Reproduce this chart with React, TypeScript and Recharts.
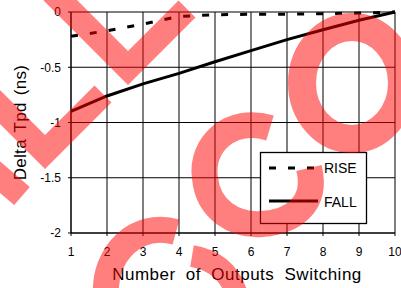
import { CartesianGrid, Line, LineChart, XAxis, YAxis } from "recharts";

const outputs = [1, 2, 3, 4, 5, 6, 7, 8, 9, 10];
const rise = [-0.22, -0.17, -0.11, -0.04, -0.025, -0.02, -0.02, -0.015, -0.01, 0];
const fall = [-0.9, -0.76, -0.65, -0.555, -0.45, -0.35, -0.25, -0.16, -0.075, 0];
const xTicks = [1, 2, 3, 4, 5, 6, 7, 8, 9, 10];
const yTicks = [-2, -1.5, -1, -0.5, 0];
const seriesNames = ["RISE", "FALL"];

const data = outputs.map((n, i) => ({ n, rise: rise[i], fall: fall[i] }));

const font = "'Liberation Sans', Arial, Helvetica, sans-serif";
const DASH = "7 12";
const STAMP = "rgba(255,0,0,0.5)";

// legend box plus the red stamp that sits over the whole picture
function Overlay() {
  return (
    <svg
      width={401}
      height={288}
      viewBox="0 0 401 288"
      style={{ position: "absolute", left: 0, top: 0, pointerEvents: "none", zIndex: 20 }}
    >
      <rect x={260.5} y={152.5} width={106} height={71} fill="#fff" stroke="#000" strokeWidth={1.3} />
      <line x1={269} y1={168} x2={314} y2={168} stroke="#000" strokeWidth={3} strokeDasharray={DASH} />
      <text x={324} y={173} fontSize={14} fontFamily={font} fill="#000">{seriesNames[0]}</text>
      <line x1={269} y1={201} x2={318} y2={201} stroke="#000" strokeWidth={3} />
      <text x={324} y={207} fontSize={14} fontFamily={font} fill="#000">{seriesNames[1]}</text>

      <polyline points="52,-8 128,68 187,9" fill="none" stroke={STAMP} strokeWidth={24} />
      <polyline points="-20,87 45,152 103,94" fill="none" stroke={STAMP} strokeWidth={24} />
      <line x1={-20} y1={160} x2={22} y2={196} stroke={STAMP} strokeWidth={24} />
      <path d="M106,296 C103,254 136,221 176,232" fill="none" stroke={STAMP} strokeWidth={26} />
      <path d="M270,128 C230,116 200,145 205,178 C208,210 235,226 262,224" fill="none" stroke={STAMP} strokeWidth={26} />
      <path d="M262,224 C292,222 318,205 309,168" fill="none" stroke={STAMP} strokeWidth={26} />
      <ellipse cx={352} cy={83} rx={50} ry={56} fill="none" stroke={STAMP} strokeWidth={28} />
      <path d="M192,256 Q228,262 238,298" fill="none" stroke={STAMP} strokeWidth={22} />
    </svg>
  );
}

export default function App() {
  return (
    <div style={{ position: "absolute", left: 0, top: 0, width: 401, height: 288, background: "#fff" }}>
      <LineChart
        width={401}
        height={288}
        data={data}
        margin={{ top: 12, right: 6, bottom: 0, left: 0 }}
      >
        <CartesianGrid stroke="#000" strokeWidth={1} />
        <XAxis
          dataKey="n"
          type="number"
          domain={[1, 10]}
          ticks={xTicks}
          interval={0}
          height={55}
          stroke="#000"
          tickSize={3}
          tickMargin={11}
          tick={{ fill: "#000", fontSize: 12, fontFamily: font }}
          label={{
            content: (p: any) => {
              const vb = p.viewBox || { x: 71, y: 233, width: 324, height: 55 };
              return (
                <text
                  x={vb.x + vb.width / 2 + 4}
                  y={vb.y + vb.height - 8}
                  textAnchor="middle"
                  fontSize={17}
                  fontFamily={font}
                  fill="#000"
                  style={{ letterSpacing: 0.5, wordSpacing: 5 }}
                >
                  Number of Outputs Switching
                </text>
              );
            },
          }}
        />
        <YAxis
          type="number"
          domain={[-2, 0]}
          ticks={yTicks}
          interval={0}
          width={71}
          stroke="#000"
          tickSize={3}
          tickMargin={7}
          tick={{ fill: "#000", fontSize: 12, fontFamily: font }}
          label={{
            content: (p: any) => {
              const vb = p.viewBox || { x: 0, y: 12, width: 71, height: 221 };
              const cx = 20;
              const cy = vb.y + vb.height / 2;
              return (
                <text
                  x={cx}
                  y={cy}
                  transform={`rotate(-90 ${cx} ${cy})`}
                  textAnchor="middle"
                  dominantBaseline="central"
                  fontSize={17}
                  fontFamily={font}
                  fill="#000"
                  style={{ letterSpacing: 0.3, wordSpacing: 2 }}
                >
                  Delta Tpd (ns)
                </text>
              );
            },
          }}
        />
        <Line
          type="linear"
          dataKey="rise"
          name={seriesNames[0]}
          stroke="#000"
          strokeWidth={3}
          strokeDasharray={DASH}
          dot={false}
          isAnimationActive={false}
        />
        <Line
          type="linear"
          dataKey="fall"
          name={seriesNames[1]}
          stroke="#000"
          strokeWidth={3}
          dot={false}
          isAnimationActive={false}
        />
      </LineChart>
      <Overlay />
    </div>
  );
}
